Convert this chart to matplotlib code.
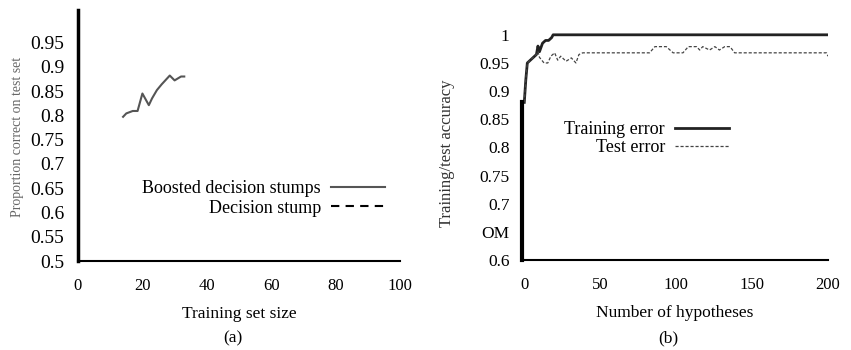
import matplotlib.pyplot as plt

# (a) learning curve
train_size = [14, 15, 17, 18.5, 20, 22, 23, 24.5, 26, 28.5, 30, 32, 33]
boosted_acc = [0.797, 0.804, 0.809, 0.809, 0.845, 0.821, 0.835, 0.852, 0.864, 0.882, 0.872, 0.880, 0.880]
stump_size = []
stump_acc = []

# (b) accuracy vs number of hypotheses
hyp_train = [0, 1, 2, 4, 6, 8, 9, 10, 12, 14, 16, 18, 19, 200]
acc_train = [0.88, 0.92, 0.95, 0.955, 0.96, 0.965, 0.98, 0.97, 0.985, 0.99, 0.99, 0.995, 1.0, 1.0]

hyp_test = [0, 1, 2, 4, 6, 8, 9, 10, 13, 15.5, 17.5, 20, 22, 24, 27.5, 31, 34, 36, 38.5,
            82.5, 86, 93.5, 98, 104.5, 108, 113.5, 115.5, 117.5, 122, 125.5, 128.5, 132,
            135.5, 138.5, 199, 200]
acc_test = [0.88, 0.92, 0.95, 0.955, 0.96, 0.965, 0.97, 0.96, 0.95, 0.95, 0.962, 0.968, 0.955,
            0.962, 0.953, 0.959, 0.95, 0.965, 0.968, 0.968, 0.979, 0.979, 0.968, 0.968,
            0.979, 0.979, 0.973, 0.979, 0.973, 0.979, 0.973, 0.979, 0.979, 0.968, 0.968, 0.962]

plt.rcParams['font.family'] = ['Liberation Serif', 'DejaVu Serif']

fig = plt.figure(figsize=(8.51, 3.5), dpi=100)

# ---- panel (a)
ax1 = fig.add_axes([78/851, 1-261/350, 322/851, 251/350])
ax1.plot(train_size, boosted_acc, color='#555555', lw=1.5, label='Boosted decision stumps')
ax1.plot(stump_size, stump_acc, color='black', lw=1.5, ls=(0, (4, 3)), label='Decision stump')
ax1.set_xlim(0, 100)
ax1.set_ylim(0.5, 1.017)
ax1.set_xticks([0, 20, 40, 60, 80, 100])
ax1.set_yticks([0.5, 0.55, 0.6, 0.65, 0.7, 0.75, 0.8, 0.85, 0.9, 0.95])
ax1.set_yticklabels(['0.5', '0.55', '0.6', '0.65', '0.7', '0.75', '0.8', '0.85', '0.9', '0.95'])
ax1.tick_params(axis='y', length=0, labelsize=14, pad=10)
ax1.tick_params(axis='x', length=0, labelsize=12, pad=12)
for s in ['top', 'right']:
    ax1.spines[s].set_visible(False)
ax1.spines['left'].set_linewidth(2.5)
ax1.spines['bottom'].set_linewidth(1.5)
ax1.set_xlabel('Training set size', fontsize=12.5, labelpad=9)
fig.text(18/851, 1-137/350, 'Proportion correct on test set', rotation=90,
         ha='center', va='center', fontsize=10, color='#666666')
ax1.legend(loc='upper right', bbox_to_anchor=(385/851, 1-180/350), bbox_transform=fig.transFigure,
           frameon=False, markerfirst=False, fontsize=13, handlelength=3, handletextpad=0.55,
           labelspacing=0.15, borderpad=0, borderaxespad=0)
fig.text(233/851, 1-338/350, '(a)', ha='center', va='center', fontsize=12.5)

# ---- panel (b)
ax2 = fig.add_axes([522/851, 1-260/350, 306/851, 228/350])
ax2.plot(hyp_train, acc_train, color='#222222', lw=2, label='Training error')
ax2.plot(hyp_test, acc_test, color='#444444', lw=0.9, ls=(0, (2.5, 1.5)), label='Test error')
ax2.set_xlim(-1.5, 200)
ax2.set_ylim(0.6, 1.005)
ax2.set_xticks([0, 50, 100, 150, 200])
ax2.set_yticks([0.6, 0.65, 0.7, 0.75, 0.8, 0.85, 0.9, 0.95, 1.0])
ax2.set_yticklabels(['0.6', 'OM', '0.7', '0.75', '0.8', '0.85', '0.9', '0.95', '1'])
ax2.tick_params(axis='y', length=0, labelsize=12.5, pad=9)
ax2.tick_params(axis='x', length=0, labelsize=12, pad=12)
for s in ['top', 'right']:
    ax2.spines[s].set_visible(False)
ax2.spines['left'].set_linewidth(3)
ax2.spines['left'].set_bounds(0.6, 0.88)
ax2.spines['bottom'].set_linewidth(1.5)
ax2.set_xlabel('Number of hypotheses', fontsize=12.5, labelpad=9)
fig.text(447/851, 1-153/350, 'Training/test accuracy', rotation=90,
         ha='center', va='center', fontsize=12, color='#333333')
ax2.legend(loc='upper right', bbox_to_anchor=(729/851, 1-121/350), bbox_transform=fig.transFigure,
           frameon=False, markerfirst=False, fontsize=13, handlelength=3, handletextpad=0.55,
           labelspacing=0.05, borderpad=0, borderaxespad=0)
fig.text(668/851, 1-338/350, '(b)', ha='center', va='center', fontsize=12.5)

fig.savefig('out.png', dpi=100)
